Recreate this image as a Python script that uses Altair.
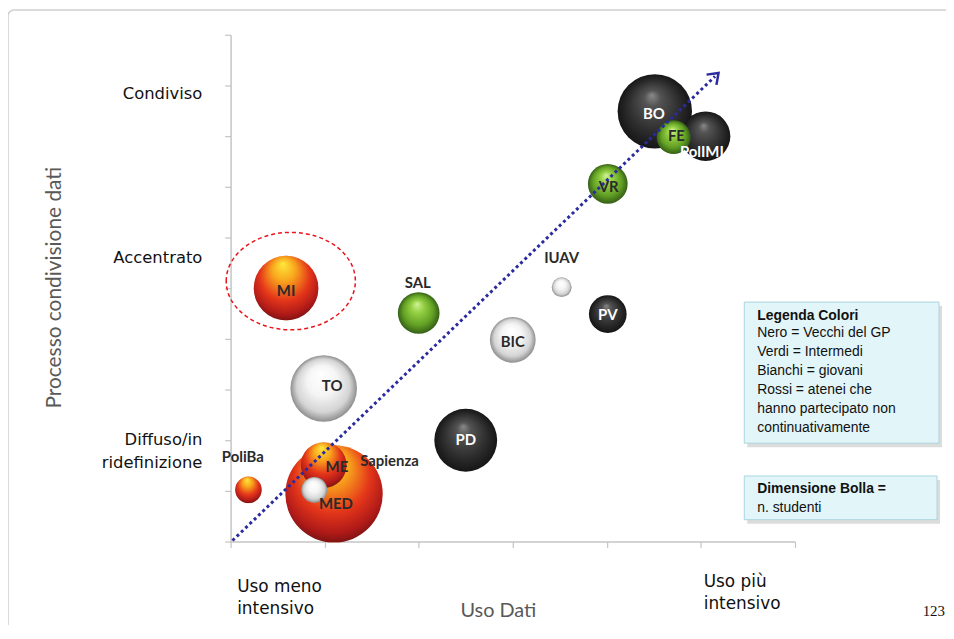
import altair as alt
import pandas as pd

# ---------------- data ----------------
atenei = ["BO", "PolIMI", "PV", "PD", "Sapienza", "ME", "MI", "PoliBa",
          "TO", "BIC", "IUAV", "MED", "FE", "VR", "SAL"]
gruppo = ["Nero", "Nero", "Nero", "Nero", "Rossi", "Rossi", "Rossi", "Rossi",
          "Bianchi", "Bianchi", "Bianchi", "Bianchi", "Verdi", "Verdi", "Verdi"]
uso_dati = [4.51, 5.05, 4.01, 2.50, 1.10, 0.99, 0.59, 0.19,
            0.99, 3.00, 3.52, 0.89, 4.71, 4.01, 2.00]
processo = [8.49, 8.00, 4.49, 2.00, 0.94, 1.51, 5.00, 1.02,
            3.02, 3.98, 5.02, 1.02, 7.98, 7.06, 4.51]
studenti = [70, 31, 18, 50, 120, 26.5, 53, 9,
            56, 26.5, 5, 8.5, 14.5, 20, 22]
etichetta_x = [4.50, 5.01, 4.01, 2.50, 1.69, 1.13, 0.59, 0.13,
               1.08, 3.00, 3.52, 1.12, 4.74, 4.02, 1.99]
etichetta_y = [8.43, 7.68, 4.47, 2.00, 1.59, 1.47, 4.94, 1.67,
               3.06, 3.94, 5.59, 0.75, 8.00, 7.00, 5.10]

livelli = ["Condiviso", "Accentrato", "Diffuso/in\nridefinizione"]
livelli_y = [8.84, 5.59, 2.00]
estremi = ["Uso meno\nintensivo", "Uso più\nintensivo"]
estremi_x = [0.07, 5.03]
estremi_y = [-0.90, -0.80]

freccia_x = [0.02, 5.15]
freccia_y = [0.02, 9.18]
cerchio_x = [0.64]
cerchio_y = [5.14]

x_ticks = [0, 1, 2, 3, 4, 5, 6]
y_ticks = [0, 1, 2, 3, 4, 5, 6, 7, 8, 9, 10]

legenda_titolo = "Legenda Colori"
legenda_righe = "Nero = Vecchi del GP\nVerdi = Intermedi\nBianchi = giovani\nRossi =  atenei che\nhanno partecipato non\ncontinuativamente"
bolla_titolo = "Dimensione Bolla ="
bolla_riga = "n. studenti"

# ---------------- tables ----------------
df = pd.DataFrame({"ateneo": atenei, "gruppo": gruppo, "uso": uso_dati,
                   "processo": processo, "studenti": studenti})
df_lab = pd.DataFrame({"ateneo": atenei, "gruppo": gruppo,
                       "uso": etichetta_x, "processo": etichetta_y})
df_liv = pd.DataFrame({"testo": livelli, "uso": [-0.30] * 3, "processo": livelli_y})
df_est = pd.DataFrame({"testo": estremi, "uso": estremi_x, "processo": estremi_y})
df_arr = pd.DataFrame({"uso": freccia_x, "processo": freccia_y})
df_head = df_arr.tail(1)
df_ell = pd.DataFrame({"uso": cerchio_x, "processo": cerchio_y})
one = pd.DataFrame({"a": [0]})

AXC = "#c4c4c4"
x_axis = alt.Axis(values=x_ticks, labels=False, grid=False, tickSize=6,
                  tickColor=AXC, domainColor=AXC, domainWidth=1.5, tickWidth=1.2,
                  title="Uso Dati", titleFont="Lato", titleFontSize=20,
                  titleFontWeight="normal", titleColor="#595959",
                  titleX=269, titleY=69, titleAlign="center", titleBaseline="middle")
y_axis = alt.Axis(values=y_ticks, labels=False, grid=False, tickSize=6,
                  tickColor=AXC, domainColor=AXC, domainWidth=1.5, tickWidth=1.2,
                  title="Processo condivisione dati", titleFont="Lato", titleFontSize=21,
                  titleFontWeight="normal", titleColor="#595959", titleAngle=270,
                  titleX=-177, titleY=254, titleAlign="center", titleBaseline="middle")

xs = alt.Scale(domain=[0, 6], nice=False, zero=False)
ys = alt.Scale(domain=[0, 10], nice=False, zero=False)
X = alt.X("uso:Q", scale=xs, axis=x_axis)
Y = alt.Y("processo:Q", scale=ys, axis=y_axis)
S = alt.Size("studenti:Q", scale=alt.Scale(domain=[0, 120], range=[0, 9604]), legend=None)


def grad(stops, fx=0.46, fy=0.28, cx=0.5, cy=0.5, r=0.5):
    return {"gradient": "radial", "x1": fx, "y1": fy, "r1": 0,
            "x2": cx, "y2": cy, "r2": r,
            "stops": [{"offset": o, "color": c} for o, c in stops]}


fills = {
    "Nero": grad([(0, "#8a8a8a"), (0.22, "#535353"), (0.7, "#2c2c2c"), (1, "#161616")]),
    "Rossi": grad([(0, "#ffe83c"), (0.3, "#f8a41c"), (0.62, "#e4361a"), (0.85, "#b01a18"), (1, "#6a1010")],
                  fx=0.45, fy=0.12, cx=0.5, cy=0.42, r=0.62),
    "Bianchi": grad([(0, "#ffffff"), (0.45, "#f5f5f5"), (0.8, "#d4d4d4"), (1, "#8e8e8e")]),
    "Verdi": grad([(0, "#d2f29a"), (0.3, "#96d144"), (0.72, "#62a024"), (1, "#355f16")]),
}

# frame of the slide
frame = alt.Chart(one).mark_rect(fill=None, stroke="#cfcfcf", strokeWidth=1.5, cornerRadius=6).encode(
    x=alt.value(-224), x2=alt.value(760), y=alt.value(-25), y2=alt.value(640))

axes = alt.Chart(df).mark_point(opacity=0).encode(x=X, y=Y)

ellisse = alt.Chart(df_ell).mark_point(
    shape="M-1,0C-1,-0.416,-0.552,-0.754,0,-0.754C0.552,-0.754,1,-0.416,1,0C1,0.416,0.552,0.754,0,0.754C-0.552,0.754,-1,0.416,-1,0Z",
    filled=False, stroke="#e8141c", strokeWidth=1.5, strokeDash=[4, 3], size=16900, opacity=1
).encode(x=X, y=Y)

bolle = []
for g in ["Nero", "Rossi", "Bianchi", "Verdi"]:
    bolle.append(
        alt.Chart(df).transform_filter(alt.datum.gruppo == g).mark_point(
            shape="circle", filled=True, fill=fills[g], opacity=1, strokeWidth=0
        ).encode(x=X, y=Y, size=S)
    )

freccia = alt.Chart(df_arr).mark_line(color="#2b2ba0", strokeWidth=3, strokeDash=[3, 3]).encode(
    x=X, y=Y)
punta = alt.Chart(df_head).mark_point(
    shape="M-0.8,0.55L0,-0.55L0.8,0.55", filled=False, stroke="#2b2ba0",
    strokeWidth=2.5, size=320, angle=46, opacity=1).encode(x=X, y=Y)

etichette = alt.Chart(df_lab).mark_text(font="Lato", fontWeight="bold", fontSize=15,
                                         baseline="middle", align="center").encode(
    x=X, y=Y, text="ateneo:N",
    color=alt.condition(alt.datum.gruppo == "Nero", alt.value("#ffffff"), alt.value("#2a2a2a")))

livelli_txt = alt.Chart(df_liv).mark_text(font="DejaVu Sans", fontSize=16.5, align="right",
                                           baseline="middle", lineBreak="\n", lineHeight=23,
                                           color="#111111").encode(x=X, y=Y, text="testo:N")
estremi_txt = alt.Chart(df_est).mark_text(font="DejaVu Sans", fontSize=17, align="left",
                                           baseline="middle", lineBreak="\n", lineHeight=22,
                                           color="#111111").encode(x=X, y=Y, text="testo:N")


# legend boxes
def box(x1, y1, x2, y2):
    shadow = alt.Chart(one).mark_rect(fill="#9a9a9a", opacity=0.35).encode(
        x=alt.value(x1 + 3), x2=alt.value(x2 + 3), y=alt.value(y1 + 4), y2=alt.value(y2 + 4))
    rect = alt.Chart(one).mark_rect(fill="#e2f5f8", stroke="#a9d5df", strokeWidth=1).encode(
        x=alt.value(x1), x2=alt.value(x2), y=alt.value(y1), y2=alt.value(y2))
    return [shadow, rect]


box1 = box(517, 269, 713, 411)
box2 = box(517, 444, 711, 488)
leg_t = alt.Chart(one).mark_text(font="Liberation Sans", fontSize=14, fontWeight="bold",
                                 align="left", baseline="middle", color="#111", text=legenda_titolo).encode(
    x=alt.value(530), y=alt.value(283))
leg_r = alt.Chart(one).mark_text(font="Liberation Sans", fontSize=14, align="left", baseline="top",
                                 lineBreak="\n", lineHeight=19.2, color="#111", text=legenda_righe).encode(
    x=alt.value(530), y=alt.value(293))
bol_t = alt.Chart(one).mark_text(font="Liberation Sans", fontSize=14, fontWeight="bold",
                                 align="left", baseline="middle", color="#111", text=bolla_titolo).encode(
    x=alt.value(530), y=alt.value(457))
bol_r = alt.Chart(one).mark_text(font="Liberation Sans", fontSize=14, align="left",
                                 baseline="middle", color="#111", text=bolla_riga).encode(
    x=alt.value(530), y=alt.value(476))
pagina = alt.Chart(one).mark_text(font="Liberation Serif", fontSize=15, align="right",
                                  baseline="middle", color="#111", text="123").encode(
    x=alt.value(719), y=alt.value(580))

chart = alt.layer(
    frame, axes, ellisse, *bolle, freccia, punta, etichette, livelli_txt, estremi_txt,
    *box1, *box2, leg_t, leg_r, bol_t, bol_r, pagina
).properties(
    width=568, height=510,
    autosize=alt.AutoSizeParams(type="none"),
    padding={"left": 224, "top": 25, "right": 152, "bottom": 82},
).configure_view(stroke=None)

chart.save("out.html", embed_options={"renderer": "svg", "actions": False})
